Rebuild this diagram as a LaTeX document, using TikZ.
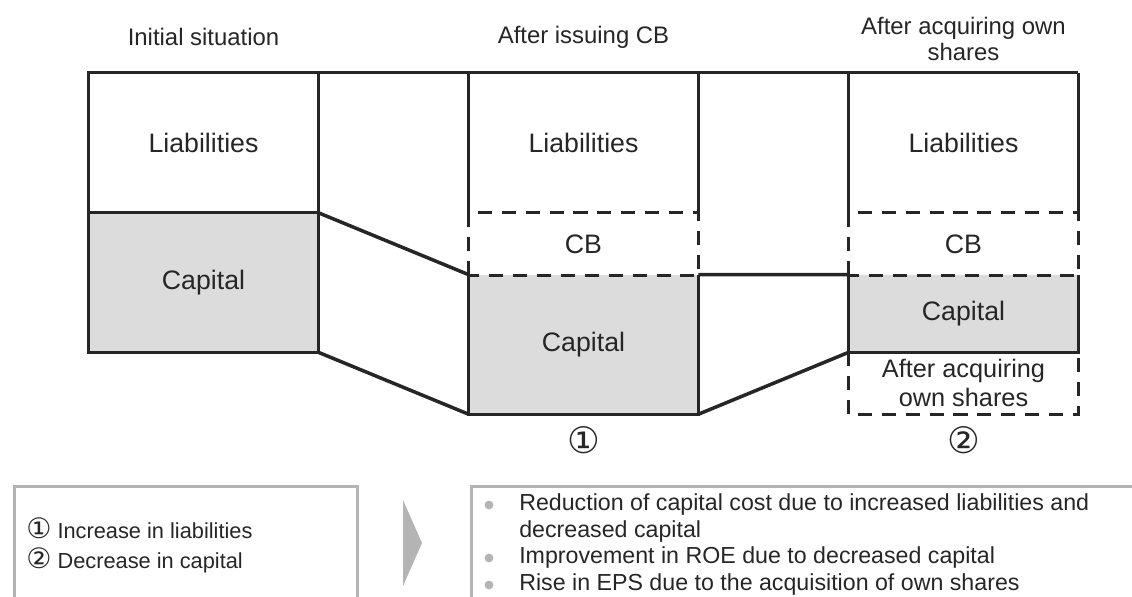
\documentclass[tikz,border=0pt]{standalone}
\usepackage{fontspec}
\setmainfont{Liberation Sans}
\newfontfamily\circfont{DejaVu Sans}
\usepackage{xcolor}
\definecolor{bsline}{RGB}{38,38,38}
\definecolor{bsfill}{RGB}{220,220,220}
\definecolor{bsgray}{RGB}{180,180,180}
\usetikzlibrary{positioning}

\tikzset{
  bsedge/.style={draw=bsline, line width=2.5pt},
  bsdash/.style={draw=bsline, line width=2.5pt, dash pattern=on 10pt off 7pt},
  block/.style={minimum width=5.725cm, inner sep=0pt, font=\fontsize{19}{22}\selectfont, text=bsline},
  bstitle/.style={font=\fontsize{17}{19}\selectfont, text=bsline, align=center},
  bsmark/.style={font=\circfont\fontsize{26}{28}\selectfont, text=bsline},
  bstext/.style={font=\fontsize{16.5}{19}\selectfont, text=bsline, align=left, inner sep=0pt},
  bsframe/.style={draw=bsgray, line width=2.3pt, inner sep=0pt}
}
\newcommand{\bscirc}[1]{{\circfont\fontsize{20}{19}\selectfont #1}}

\begin{document}
\begin{tikzpicture}
  \useasboundingbox (0,0) rectangle (28.3,14.9);
  \clip (0,0) rectangle (28.3,14.9);

  % Column titles
  \node[bstitle] (title1) at (5.0875,13.975) {Initial situation};
  \node[bstitle] (title2) at (14.5875,13.975) {After issuing CB};
  \node[bstitle] (title3) at (24.0875,13.925) {After acquiring own\\shares};

  % Initial situation
  \node[block, minimum height=3.5cm] (liab1) at (5.0875,11.325) {Liabilities};
  \node[block, minimum height=3.475cm, fill=bsfill] (cap1) at (5.0875,7.8375) {Capital};
  \draw[bsedge] (liab1.north west) rectangle (cap1.south east);
  \draw[bsedge] (cap1.north west) -- (cap1.north east);

  % After issuing CB
  \node[block, minimum height=3.5cm] (liab2) at (14.5875,11.325) {Liabilities};
  \node[block, minimum height=1.55cm] (cb2) at (14.5875,8.8) {CB};
  \node[block, minimum height=3.475cm, fill=bsfill] (cap2) at (14.5875,6.2875) {Capital};
  \draw[bsedge] (liab2.south west) -- (liab2.north west);
  \draw[bsedge] (liab2.south east) -- (liab2.north east);
  \draw[bsdash] (cb2.south west) rectangle (cb2.north east);
  \draw[bsedge] (cap2.north west) |- (cap2.south east) -- (cap2.north east);

  % After acquiring own shares
  \node[block, minimum height=3.5cm] (liab3) at (24.0875,11.325) {Liabilities};
  \node[block, minimum height=1.55cm] (cb3) at (24.0875,8.8) {CB};
  \node[block, minimum height=1.925cm, fill=bsfill] (cap3) at (24.0875,7.0625) {Capital};
  \node[block, minimum height=1.55cm, align=center, font=\fontsize{18}{21}\selectfont] (acq3) at (24.0875,5.325) {After acquiring\\own shares};
  \draw[bsedge] (liab3.south west) -- (liab3.north west);
  \draw[bsedge] (liab3.south east) -- (liab3.north east);
  \draw[bsdash] (cb3.south west) rectangle (cb3.north east);
  \draw[bsedge] (cap3.north west) |- (cap3.south east) -- (cap3.north east);
  \draw[bsdash] (acq3.north west) |- (acq3.south east) -- (acq3.north east);

  % top line and links between columns
  \draw[bsedge] (liab1.north west) -- (liab3.north east);
  \draw[bsedge] (cap1.north east) -- (cap2.north west);
  \draw[bsedge] (cap1.south east) -- (cap2.south west);
  \draw[bsedge] (cap2.north east) -- (cap3.north west);
  \draw[bsedge] (cap2.south east) -- (cap3.south west);

  \node[bsmark] (mark1) at (14.5875,3.9) {①};
  \node[bsmark] (mark2) at (24.0875,3.9) {②};

  % Changes and effects
  \node[bsframe, minimum width=8.575cm, minimum height=3.6cm, anchor=north west] (causes) at (0.325,2.775) {};
  \node[bstext, anchor=west, font=\fontsize{15.5}{19}\selectfont] (cause1) at (0.65,1.7) {\bscirc{①} Increase in liabilities};
  \node[bstext, anchor=west, font=\fontsize{15.5}{19}\selectfont] (cause2) at (0.65,0.9) {\bscirc{②} Decrease in capital};

  \fill[bsgray] (10.075,2.4) -- (10.55,1.325) -- (10.075,0.25) -- cycle;

  \node[bsframe, minimum width=17.2cm, minimum height=3.6cm, anchor=north west] (effects) at (11.75,2.775) {};
  \node[bstext, anchor=west] (effect1) at (12.975,1.95) {Reduction of capital cost due to increased liabilities and\\decreased capital};
  \node[bstext, anchor=west] (effect2) at (12.975,0.95) {Improvement in ROE due to decreased capital};
  \node[bstext, anchor=west] (effect3) at (12.975,0.275) {Rise in EPS due to the acquisition of own shares};
  \foreach \y/\n in {2.275/1, 0.95/2, 0.275/3}
    \fill[bsgray] (12.225,\y) circle (0.11) coordinate (dot\n);
\end{tikzpicture}
\end{document}
